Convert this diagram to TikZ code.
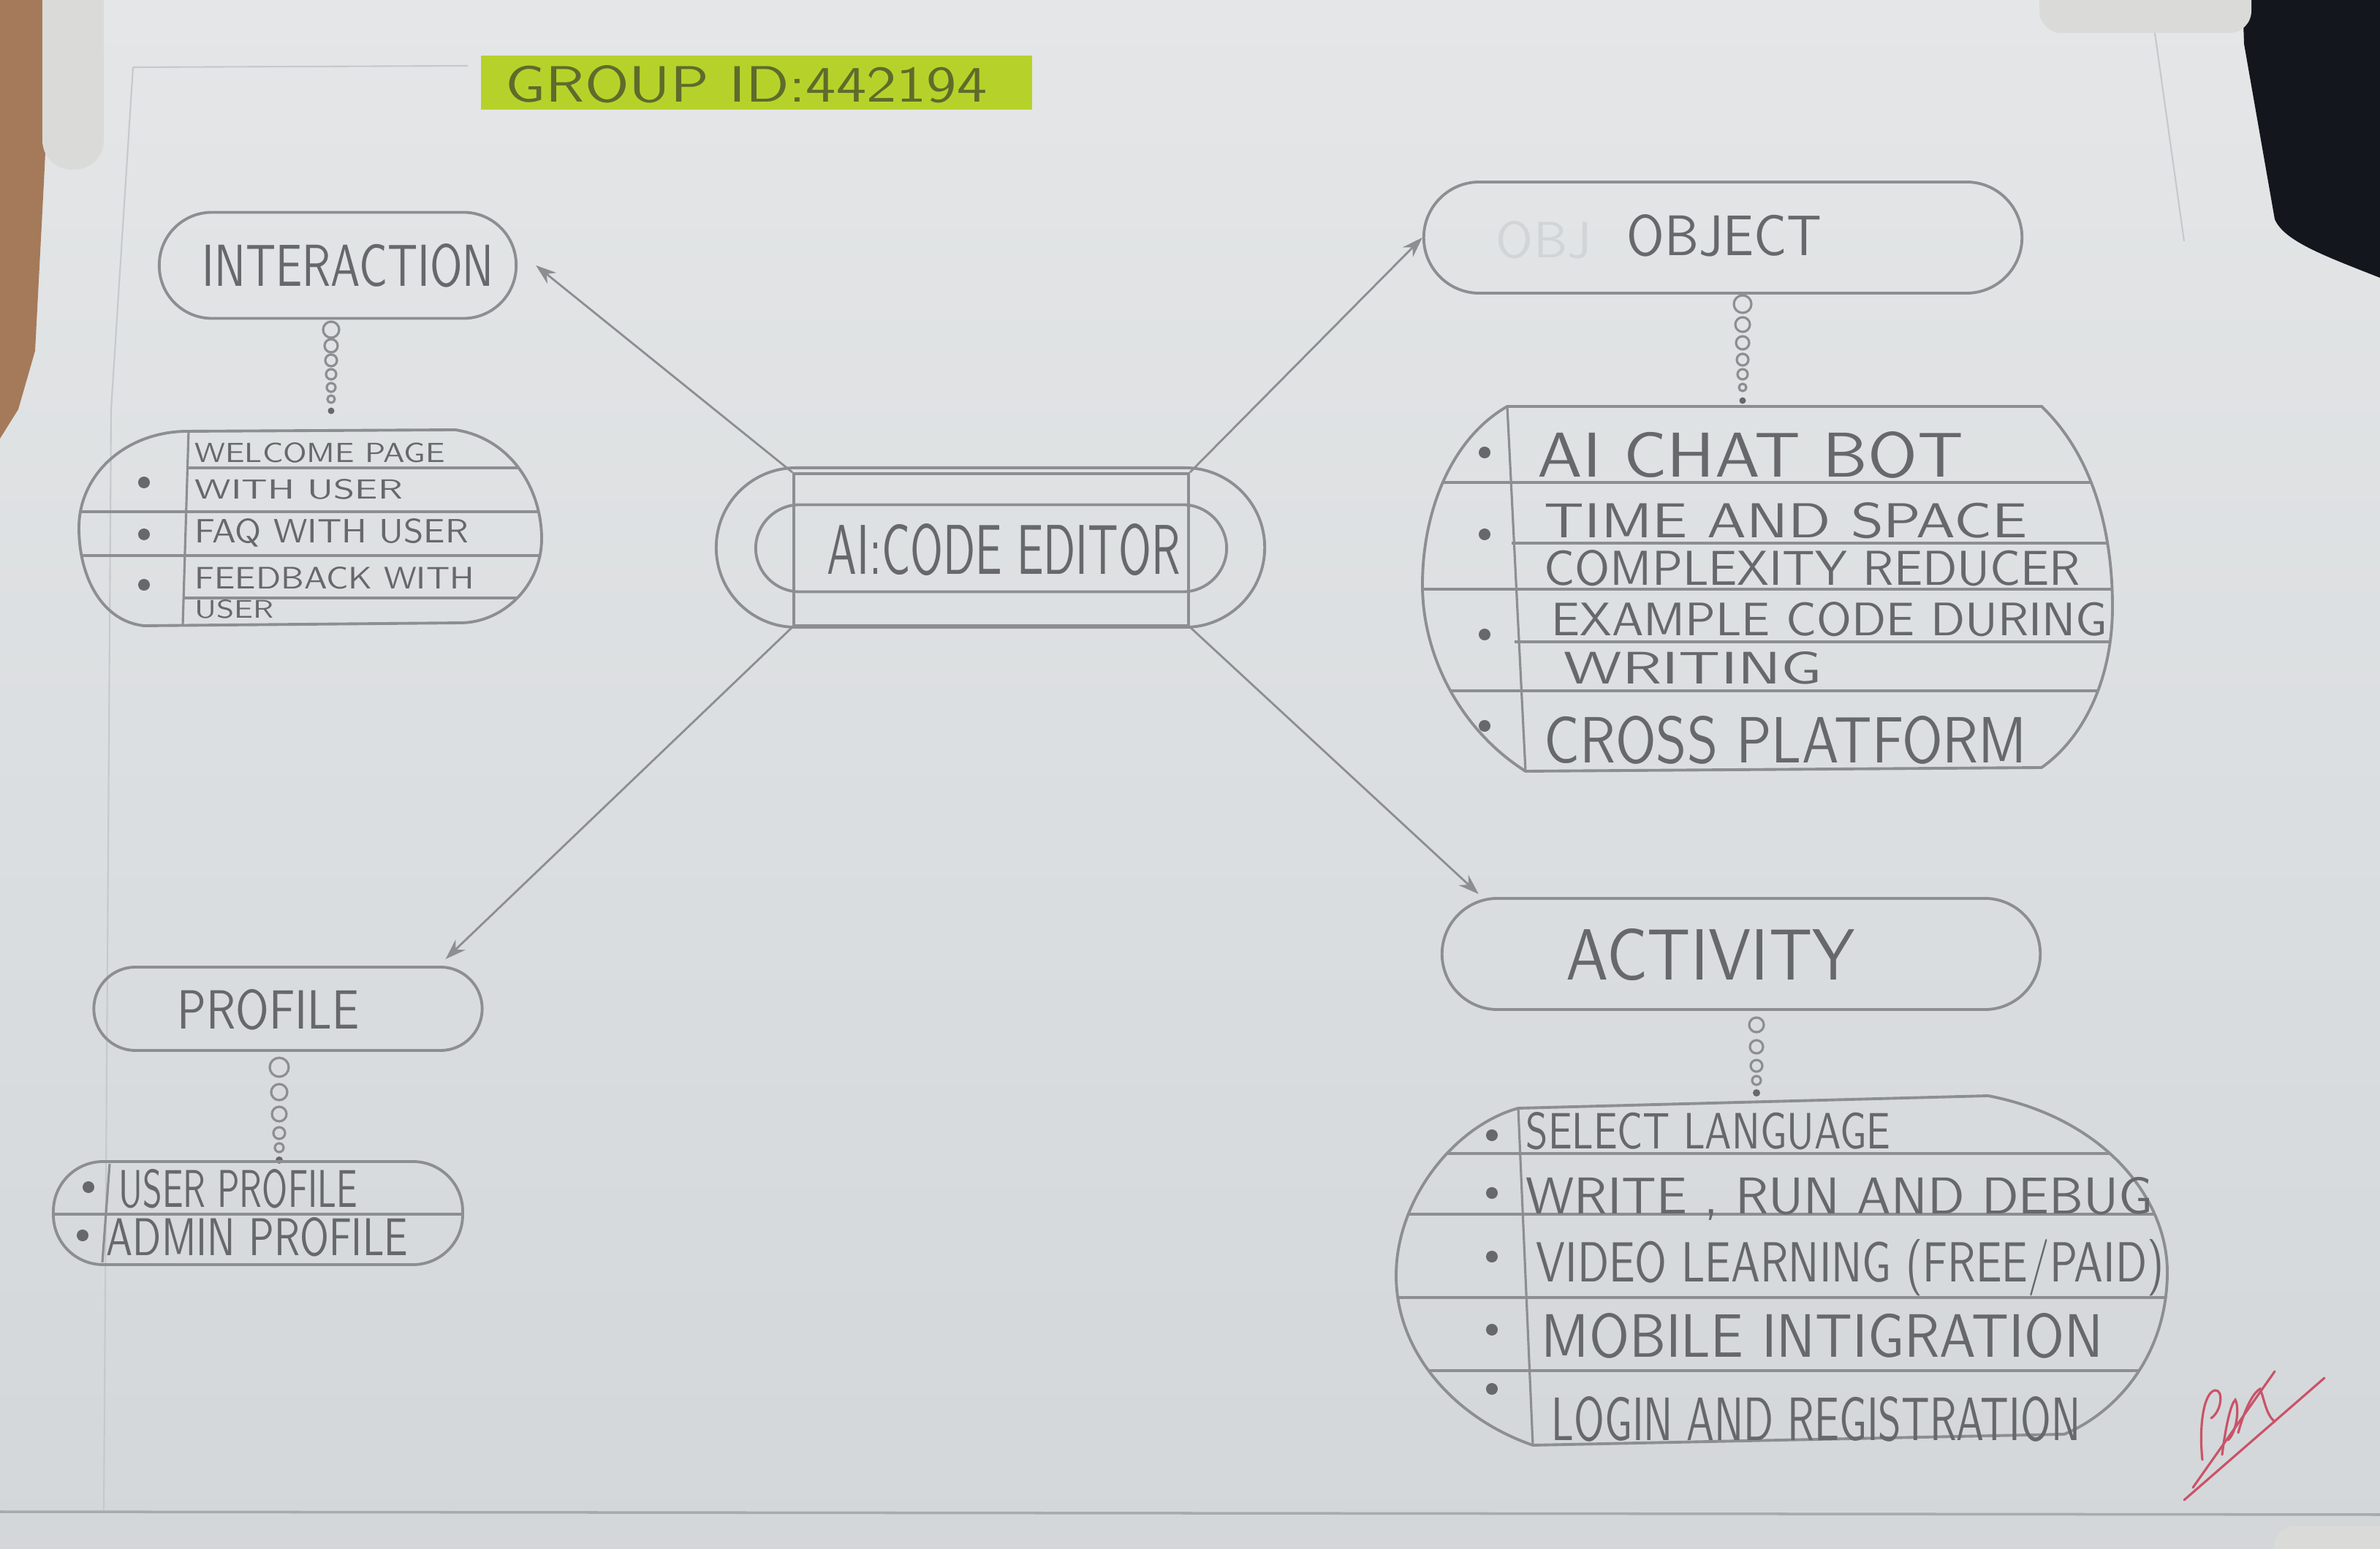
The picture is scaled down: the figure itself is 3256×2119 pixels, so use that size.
\documentclass[tikz,border=0pt]{standalone}
\usepackage{graphicx}
\usetikzlibrary{arrows.meta}
\definecolor{paperTop}{HTML}{E4E6E7}
\definecolor{paperBot}{HTML}{D3D7DA}
\definecolor{pencil}{HTML}{8C8E91}
\definecolor{lead}{HTML}{66686B}
\definecolor{marker}{HTML}{B6D22A}
\definecolor{markink}{HTML}{5E6B2C}
\definecolor{cork}{HTML}{A47A5A}
\definecolor{clipw}{HTML}{DADBD8}
\definecolor{night}{HTML}{14161E}
\definecolor{redink}{HTML}{C85468}
\definecolor{ghost}{HTML}{D2D5D8}
\definecolor{edge}{HTML}{C6C9CC}

% stretch a line of capitals to a given width and cap height (in cm)
\newcommand{\hw}[3]{\resizebox{#1cm}{#2cm}{#3}}

\begin{document}
\begin{tikzpicture}[x=0.01cm,y=-0.01cm,font=\sffamily,
  pill/.style={draw=pencil,line width=1.1pt,rectangle,inner sep=0pt},
  txt/.style={inner sep=0pt,text=lead},
  lbl/.style={inner sep=0pt,anchor=west,text=lead},
  conn/.style={draw=pencil,line width=0.8pt,-{Stealth[length=8pt,width=5.5pt]}},
  rowline/.style={draw=pencil,line width=0.9pt},
  bead/.style={draw=pencil,line width=0.9pt},
  shapeline/.style={draw=pencil,line width=1.1pt},
]
\useasboundingbox (0,0) rectangle (3256,2119);

% ---- sheet and surroundings ----
\shade[top color=paperTop,bottom color=paperBot] (0,0) rectangle (3256,2119);
\fill[cork] (0,0) -- (72,0) -- (60,250) -- (48,480) -- (25,560) -- (0,600) -- cycle;
\fill[clipw,rounded corners=0.4cm] (58,-60) rectangle (142,232);
\draw[edge,line width=0.6pt] (182,92) -- (640,90);
\draw[edge,line width=0.6pt] (182,92) -- (152,560) -- (142,2068);
\fill[night] (3068,0) -- (3256,0) -- (3256,380) .. controls (3180,350) and (3125,330) .. (3112,300) -- (3070,60) -- cycle;
\fill[clipw,rounded corners=0.3cm] (2790,-40) rectangle (3080,45);
\draw[edge,line width=0.6pt] (2948,45) -- (2988,330);
\draw[edge!85!black,line width=1pt] (0,2068) -- (3256,2072);
\fill[clipw,rounded corners=0.3cm] (3110,2088) rectangle (3330,2170);

% ---- group tag ----
\node[fill=marker,minimum width=7.54cm,minimum height=0.73cm,inner sep=0pt] (gid) at (1035,113) {};
\node[txt,text=markink] (gidtxt) at (1021,115) {\hw{6.58}{0.50}{GROUP ID:442194}};

% ---- central topic ----
\node[pill,rounded corners=1.09cm,minimum width=7.5cm,minimum height=2.18cm] (outer) at (1355,749) {};
\node[draw=pencil,line width=1pt,minimum width=5.4cm,minimum height=2.08cm,inner sep=0pt] (core) at (1356,752) {};
\node[pill,rounded corners=0.6cm,minimum width=6.44cm,minimum height=1.19cm] (inner) at (1356,750) {};
\node[txt] (coretxt) at (1373,752) {\hw{4.83}{0.69}{AI:CODE EDITOR}};

% ---- headings ----
\node[pill,rounded corners=0.72cm,minimum width=4.88cm,minimum height=1.45cm] (inter) at (462,363) {};
\node[txt] (intertxt) at (476,363) {\hw{3.99}{0.58}{INTERACTION}};

\node[pill,rounded corners=0.76cm,minimum width=8.18cm,minimum height=1.52cm] (obj) at (2357,325) {};
\node[txt,text=ghost] (objghost) at (2112,328) {\hw{1.30}{0.50}{OBJ}};
\node[txt] (objtxt) at (2359,322) {\hw{2.66}{0.56}{OBJECT}};

\node[pill,rounded corners=0.76cm,minimum width=8.18cm,minimum height=1.52cm] (act) at (2382,1305) {};
\node[txt] (acttxt) at (2340,1306) {\hw{3.95}{0.70}{ACTIVITY}};

\node[pill,rounded corners=0.57cm,minimum width=5.31cm,minimum height=1.14cm] (prof) at (394,1380) {};
\node[txt] (proftxt) at (367,1381) {\hw{2.49}{0.54}{PROFILE}};

% ---- connectors ----
\draw[conn] (core.north west) -- ([xshift=0.25cm]inter.east);
\draw[conn] (core.north east) -- (obj.west);
\draw[conn] (core.south west) -- ([xshift=-0.52cm,yshift=0.09cm]prof.north east);
\draw[conn] (core.south east) -- ([xshift=0.52cm,yshift=0.04cm]act.north west);

% ---- bead chains ----
\foreach \yy/\rr in {451/11,473/9,493/8,512/7,530/6,546/5}
  \draw[bead] (453,\yy) circle[radius=\rr*0.01cm];
\fill[lead] (453,562) circle[radius=0.045cm];
\foreach \yy/\rr in {416/12,444/10,469/9,492/8,512/7,530/5}
  \draw[bead] (2384,\yy) circle[radius=\rr*0.01cm];
\fill[lead] (2384,548) circle[radius=0.045cm];
\foreach \yy/\rr in {1402/10,1432/9,1458/8,1478/6}
  \draw[bead] (2403,\yy) circle[radius=\rr*0.01cm];
\fill[lead] (2403,1495) circle[radius=0.05cm];
\foreach \yy/\rr in {1460/13,1494/11,1524/10,1550/8,1570/6}
  \draw[bead] (382,\yy) circle[radius=\rr*0.01cm];
\fill[lead] (382,1587) circle[radius=0.05cm];

% ---- interaction list ----
\begin{scope}
  \clip (253,590) -- (623,588) .. controls (700,600) and (741,670) .. (741,737) .. controls (741,800) and (690,850) .. (633,852) -- (197,856) .. controls (140,850) and (108,790) .. (108,722) .. controls (108,650) and (170,592) .. (253,590) -- cycle;
  \draw[rowline] (256,640) -- (760,640);
  \draw[rowline] (100,700) -- (760,700);
  \draw[rowline] (100,760) -- (760,760);
  \draw[rowline] (252,818) -- (760,818);
\end{scope}
\draw[shapeline] (253,590) -- (623,588) .. controls (700,600) and (741,670) .. (741,737) .. controls (741,800) and (690,850) .. (633,852) -- (197,856) .. controls (140,850) and (108,790) .. (108,722) .. controls (108,650) and (170,592) .. (253,590) -- cycle;
\draw[rowline] (258,590) -- (250,856);
\node[lbl] (i1a) at (266,619) {\hw{3.42}{0.27}{WELCOME PAGE}};
\node[lbl] (i1b) at (266,669) {\hw{2.84}{0.27}{WITH USER}};
\node[lbl] (i2) at (266,729) {\hw{3.74}{0.33}{FAQ WITH USER}};
\node[lbl] (i3a) at (266,791) {\hw{3.82}{0.30}{FEEDBACK WITH}};
\node[lbl] (i3b) at (266,833) {\hw{1.08}{0.25}{USER}};
\foreach \yy in {660,731,800} \fill[lead] (197,\yy) circle[radius=0.08cm];

% ---- object list ----
\begin{scope}
  \clip (2062,556) -- (2793,556) .. controls (2860,620) and (2890,720) .. (2890,830) .. controls (2890,930) and (2850,1010) .. (2793,1050) -- (2087,1055) .. controls (2000,1000) and (1946,900) .. (1946,800) .. controls (1946,700) and (1985,600) .. (2062,556) -- cycle;
  \draw[rowline] (1930,660) -- (2900,660);
  \draw[rowline] (2068,743) -- (2900,743);
  \draw[rowline] (1930,806) -- (2900,806);
  \draw[rowline] (2072,878) -- (2900,878);
  \draw[rowline] (1930,945) -- (2900,945);
\end{scope}
\draw[shapeline] (2062,556) -- (2793,556) .. controls (2860,620) and (2890,720) .. (2890,830) .. controls (2890,930) and (2850,1010) .. (2793,1050) -- (2087,1055) .. controls (2000,1000) and (1946,900) .. (1946,800) .. controls (1946,700) and (1985,600) .. (2062,556) -- cycle;
\draw[rowline] (2062,556) -- (2087,1055);
\node[lbl] (o1) at (2103,622) {\hw{5.82}{0.62}{AI CHAT BOT}};
\node[lbl] (o2a) at (2112,712) {\hw{6.60}{0.48}{TIME AND SPACE}};
\node[lbl] (o2b) at (2112,777) {\hw{7.33}{0.48}{COMPLEXITY REDUCER}};
\node[lbl] (o3a) at (2122,847) {\hw{7.60}{0.46}{EXAMPLE CODE DURING}};
\node[lbl] (o3b) at (2139,914) {\hw{3.53}{0.44}{WRITING}};
\node[lbl] (o4) at (2112,1012) {\hw{6.60}{0.64}{CROSS PLATFORM}};
\foreach \yy in {619,731,868,993} \fill[lead] (2031,\yy) circle[radius=0.08cm];

% ---- activity list ----
\begin{scope}
  \clip (2077,1516) -- (2720,1499) .. controls (2880,1530) and (2965,1640) .. (2965,1740) .. controls (2965,1850) and (2900,1930) .. (2824,1962) -- (2097,1977) .. controls (1990,1940) and (1910,1850) .. (1910,1745) .. controls (1910,1640) and (1990,1540) .. (2077,1516) -- cycle;
  \draw[rowline] (1900,1578) -- (2980,1578);
  \draw[rowline] (1900,1661) -- (2980,1661);
  \draw[rowline] (1900,1775) -- (2980,1775);
  \draw[rowline] (1900,1875) -- (2980,1875);
\end{scope}
\draw[shapeline] (2077,1516) -- (2720,1499) .. controls (2880,1530) and (2965,1640) .. (2965,1740) .. controls (2965,1850) and (2900,1930) .. (2824,1962) -- (2097,1977) .. controls (1990,1940) and (1910,1850) .. (1910,1745) .. controls (1910,1640) and (1990,1540) .. (2077,1516) -- cycle;
\draw[rowline] (2077,1516) -- (2097,1977);
\node[lbl] (a1) at (2087,1547) {\hw{4.98}{0.50}{SELECT LANGUAGE}};
\node[lbl] (a2) at (2087,1640) {\hw{8.57}{0.50}{WRITE , RUN AND DEBUG}};
\node[lbl] (a3) at (2101,1734) {\hw{8.58}{0.58}{VIDEO LEARNING (FREE/PAID)}};
\node[lbl] (a4) at (2108,1827) {\hw{7.68}{0.60}{MOBILE INTIGRATION}};
\node[lbl] (a5) at (2122,1941) {\hw{7.23}{0.60}{LOGIN AND REGISTRATION}};
\foreach \yy in {1553,1632,1719,1819,1900} \fill[lead] (2041,\yy) circle[radius=0.08cm];

% ---- profile list ----
\begin{scope}
  \clip[rounded corners=0.68cm] (73,1589) rectangle (633,1730);
  \draw[rowline] (60,1661) -- (650,1661);
\end{scope}
\draw[shapeline,rounded corners=0.68cm] (73,1589) rectangle (633,1730);
\draw[rowline] (150,1592) -- (140,1727);
\node[lbl] (p1) at (162,1626) {\hw{3.26}{0.52}{USER PROFILE}};
\node[lbl] (p2) at (145,1692) {\hw{4.12}{0.52}{ADMIN PROFILE}};
\fill[lead] (121,1624) circle[radius=0.08cm];
\fill[lead] (113,1690) circle[radius=0.08cm];

% ---- signature ----
\begin{scope}[draw=redink,line width=0.9pt,line cap=round]
  \draw (2988,2052) -- (3180,1885);
  \draw (3000,2035) -- (3112,1876);
  \draw (3013,1997) .. controls (3008,1950) and (3015,1905) .. (3030,1902) .. controls (3042,1900) and (3040,1930) .. (3025,1940);
  \draw (3040,1990) .. controls (3045,1950) and (3052,1920) .. (3058,1915) .. controls (3064,1925) and (3060,1960) .. (3048,1970);
  \draw (3062,1960) .. controls (3070,1930) and (3082,1905) .. (3092,1900) .. controls (3098,1915) and (3100,1935) .. (3112,1945);
\end{scope}
\end{tikzpicture}
\end{document}
